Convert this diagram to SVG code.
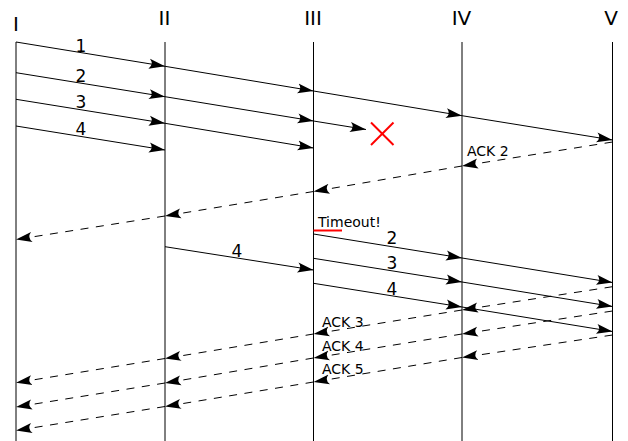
<svg xmlns="http://www.w3.org/2000/svg" width="628" height="441" viewBox="0 0 628 441">
<defs>
<marker id="ah" markerUnits="userSpaceOnUse" markerWidth="17" markerHeight="12" viewBox="0 0 17 12" refX="16" refY="6" orient="auto">
<path d="M0,1 L16,6 L0,11 Q5,6 0,1 Z" fill="#000"/>
</marker>
<style>
.life{stroke:#000;stroke-width:1;fill:none}
.msg{stroke:#000;stroke-width:1;fill:none;marker-end:url(#ah)}
.ack{stroke:#000;stroke-width:1;fill:none;stroke-dasharray:8,7.5;marker-end:url(#ah)}
.hd{font-family:"DejaVu Sans",sans-serif;font-size:20px;fill:#000;text-anchor:middle}
.num{font-family:"DejaVu Sans",sans-serif;font-size:17px;fill:#000;text-anchor:middle}
.lbl{font-family:"DejaVu Sans",sans-serif;font-size:14px;fill:#000}
.red{stroke:#f00;stroke-width:2;fill:none}
</style>
</defs>
<rect width="628" height="441" fill="#fff"/>
<g id="node-I"><line class="life" x1="16" y1="42" x2="16" y2="441"/><text class="hd" x="16" y="31">I</text></g>
<g id="node-II"><line class="life" x1="165" y1="42" x2="165" y2="441"/><text class="hd" x="164.5" y="25">II</text></g>
<g id="node-III"><line class="life" x1="313.5" y1="42" x2="313.5" y2="441"/><text class="hd" x="313" y="25">III</text></g>
<g id="node-IV"><line class="life" x1="462" y1="42" x2="462" y2="441"/><text class="hd" x="461.5" y="25">IV</text></g>
<g id="node-V"><line class="life" x1="612.5" y1="42" x2="612.5" y2="441"/><text class="hd" x="611" y="25">V</text></g>
<g id="connectors">
<line class="msg" x1="16" y1="42" x2="165" y2="66.3"/>
<line class="msg" x1="165" y1="66.3" x2="313.5" y2="91"/>
<line class="msg" x1="313.5" y1="91" x2="462" y2="115.7"/>
<line class="msg" x1="462" y1="115.7" x2="612.5" y2="140"/>
<line class="msg" x1="16" y1="72.7" x2="165" y2="96.7"/>
<line class="msg" x1="165" y1="96.7" x2="313.5" y2="121"/>
<line class="msg" x1="313.5" y1="121" x2="366" y2="129.5"/>
<line class="msg" x1="16" y1="99.3" x2="165" y2="123.3"/>
<line class="msg" x1="165" y1="123.3" x2="313.5" y2="148"/>
<line class="msg" x1="16" y1="126" x2="165" y2="150"/>
<line class="ack" x1="612.5" y1="142" x2="462" y2="166"/>
<line class="ack" x1="462" y1="166" x2="313.5" y2="191.5"/>
<line class="ack" x1="313.5" y1="191.5" x2="165" y2="216"/>
<line class="ack" x1="165" y1="216" x2="16" y2="239.5"/>
<line class="msg" x1="165" y1="246.7" x2="313.5" y2="270"/>
<line class="msg" x1="313.5" y1="234" x2="462" y2="258"/>
<line class="msg" x1="462" y1="258" x2="612.5" y2="282.5"/>
<line class="msg" x1="313.5" y1="258.3" x2="462" y2="282"/>
<line class="msg" x1="462" y1="282" x2="612.5" y2="306.5"/>
<line class="msg" x1="313.5" y1="283.3" x2="462" y2="307"/>
<line class="msg" x1="462" y1="307" x2="612.5" y2="331.5"/>
<line class="ack" x1="612.5" y1="286.7" x2="462" y2="310"/>
<line class="ack" x1="462" y1="310" x2="313.5" y2="334"/>
<line class="ack" x1="313.5" y1="334" x2="165" y2="358.5"/>
<line class="ack" x1="165" y1="358.5" x2="16" y2="382.7"/>
<line class="ack" x1="612.5" y1="311" x2="462" y2="334"/>
<line class="ack" x1="462" y1="334" x2="313.5" y2="358"/>
<line class="ack" x1="313.5" y1="358" x2="165" y2="383"/>
<line class="ack" x1="165" y1="383" x2="16" y2="407"/>
<line class="ack" x1="612.5" y1="335" x2="462" y2="357.5"/>
<line class="ack" x1="462" y1="357.5" x2="313.5" y2="382"/>
<line class="ack" x1="313.5" y1="382" x2="165" y2="406.5"/>
<line class="ack" x1="165" y1="406.5" x2="16" y2="430.5"/>
</g>
<g id="labels">
<text class="num" x="81" y="52">1</text>
<text class="num" x="81" y="81.5">2</text>
<text class="num" x="81" y="107.5">3</text>
<text class="num" x="81" y="135">4</text>
<text class="num" x="237" y="257">4</text>
<text class="num" x="392" y="244">2</text>
<text class="num" x="392" y="269">3</text>
<text class="num" x="392" y="295">4</text>
<text class="lbl" x="467" y="156">ACK 2</text>
<text class="lbl" x="318" y="227">Timeout!</text>
<text class="lbl" x="322" y="327">ACK 3</text>
<text class="lbl" x="322" y="351">ACK 4</text>
<text class="lbl" x="322" y="374">ACK 5</text>
</g>
<g id="loss">
<line class="red" x1="371" y1="122.5" x2="393.5" y2="145"/>
<line class="red" x1="393.5" y1="122.5" x2="371" y2="145"/>
<line class="red" x1="313.5" y1="230.5" x2="342" y2="230.5"/>
</g>
</svg>
